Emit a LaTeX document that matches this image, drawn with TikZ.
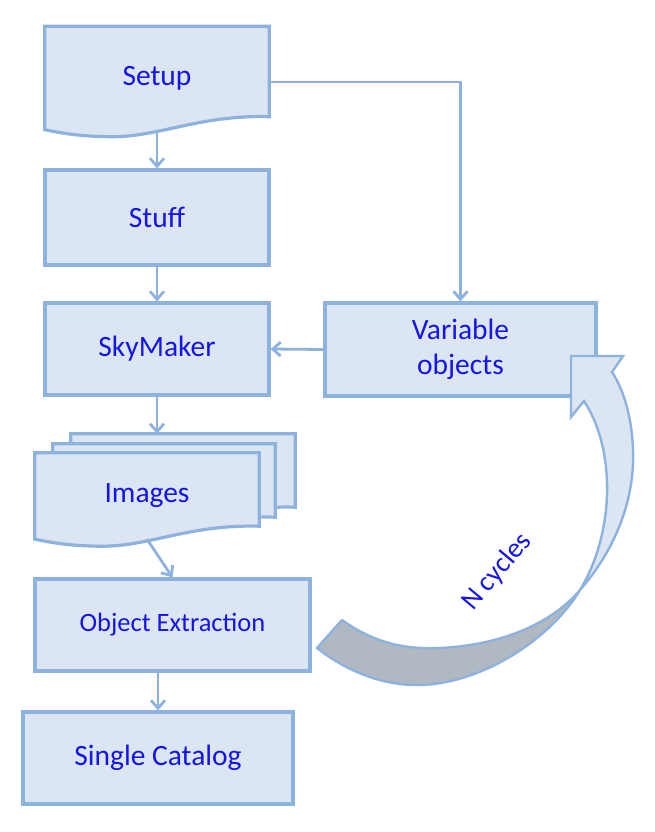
\documentclass[tikz,border=0pt]{standalone}
\usepackage{fontspec}
\setmainfont{Carlito}
\usepackage{xcolor}
\usetikzlibrary{arrows.meta,positioning,calc,backgrounds}
\definecolor{boxfill}{RGB}{220,230,242}
\definecolor{boxline}{RGB}{142,178,222}
\definecolor{labelblue}{RGB}{20,20,235}
\definecolor{twistgray}{RGB}{176,184,194}
\tikzset{
  stepbox/.style={rectangle, draw=boxline, fill=boxfill, line width=3.2pt, text=labelblue, align=center, inner sep=0pt, font=\fontsize{29.5}{35}\selectfont},
  docbox/.style={rectangle, text=labelblue, inner sep=0pt, font=\fontsize{29.5}{35}\selectfont},
  docshape/.style={draw=boxline, fill=boxfill, line width=3.2pt},
  flow/.style={draw=boxline, line width=2.8pt, -{Straight Barb[length=8pt,width=14pt]}},
  loopband/.style={draw=boxline, line width=2.4pt, line join=miter, fill=boxfill},
  loopback/.style={draw=boxline, line width=2.4pt, line join=round, fill=twistgray}
}
\newcommand{\docoutline}[1]{%
  \draw[docshape] (#1.north west) -- (#1.north east) -- ($(#1.south east)+(0,-13)$)
    .. controls +(-69,-2) and +(47,0) .. ($(#1.south west)+(68,7)$)
    .. controls +(-33,0) and +(15,3) .. (#1.south west) -- cycle;}

\begin{document}
\begin{tikzpicture}[x=1pt,y=-1pt]
  \useasboundingbox (0,0) rectangle (654,832);
  % main chain
  \node[docbox, minimum width=224, minimum height=103] (setup) at (157,78) {Setup};
  \node[stepbox, minimum width=224, minimum height=95] (stuff) at (157,217.5) {Stuff};
  \node[stepbox, minimum width=224, minimum height=92] (sky) at (157,349) {SkyMaker};
  \node[stepbox, minimum width=271, minimum height=93] (variable) at (460.5,349.5) {Variable\\objects};
  \node[docbox, minimum width=224, minimum height=86] (imgback) at (183,477) {};
  \node[docbox, minimum width=222, minimum height=86] (imgmid) at (164,487) {};
  \node[docbox, minimum width=224, minimum height=86] (imgfront) at (147,496) {Images};
  \node[stepbox, minimum width=275, minimum height=92, font=\fontsize{26.5}{32}\selectfont] (extract) at (172.5,625) {Object Extraction};
  \node[stepbox, minimum width=270, minimum height=92] (catalog) at (158,758) {Single Catalog};

  \begin{scope}[on background layer]
    \docoutline{setup}
    \docoutline{imgback}
    \docoutline{imgmid}
    \docoutline{imgfront}
  \end{scope}

  \draw[flow] (setup.south) -- (stuff.north);
  \draw[flow] (stuff.south) -- (sky.north);
  \draw[flow] ($(setup.east)+(0,4)$) -| (variable.north);
  \draw[flow] (variable.west) -- (sky.east);
  \draw[flow] (sky.south) -- (sky.south |- imgback.north);
  \draw[flow] (imgfront.south) -- (extract.north);
  \draw[flow] (catalog.north |- extract.south) -- (catalog.north);

  % N cycles loop
  \draw[loopback] (580,590) .. controls (550,640) and (480,685) .. (417,685)
    .. controls (380,685) and (345,670) .. (317,648) -- (342,620)
    .. controls (370,640) and (400,650) .. (440,648)
    .. controls (500,645) and (550,625) .. (580,590) -- cycle;
  \draw[loopband] (580,590) .. controls (615,550) and (635,500) .. (633,450)
    .. controls (632,420) and (625,392) .. (612,372) -- (623,356) -- (571,356)
    -- (571,417) -- (584,401) .. controls (603,430) and (610,470) .. (606,510)
    .. controls (602,545) and (592,570) .. (580,590) -- cycle;
  \node[rotate=50, text=labelblue, font=\fontsize{28}{32}\selectfont] (ncycles) at (497,572) {N cycles};
\end{tikzpicture}
\end{document}
